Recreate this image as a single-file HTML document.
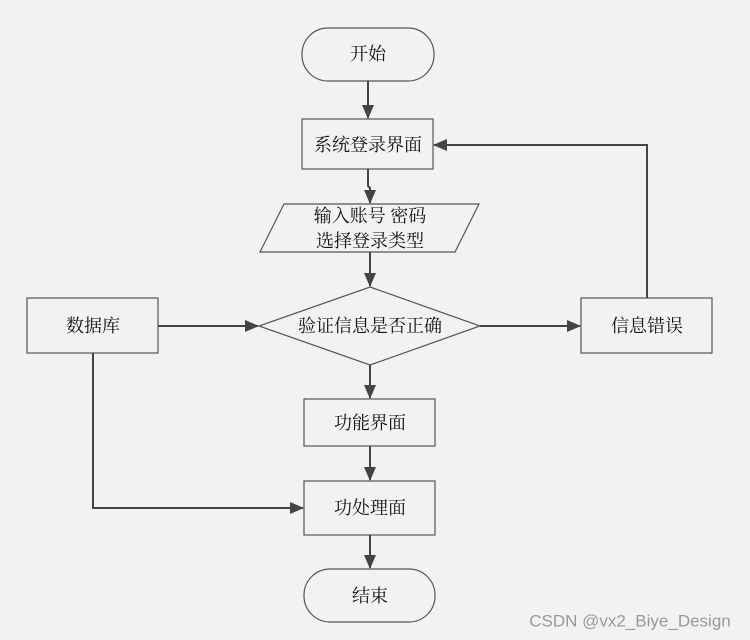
<!DOCTYPE html>
<html><head><meta charset="utf-8"><style>
html,body{margin:0;padding:0;background:#f2f2f2;}
svg{display:block;}
text{font-family:"Liberation Serif","Noto Serif CJK SC",serif;font-size:18px;fill:#111;text-anchor:middle;dominant-baseline:central;}
.s{fill:#f2f2f2;stroke:#555;stroke-width:1.2;}
.l{stroke:#444;stroke-width:2;fill:none;}
</style></head><body>
<svg width="750" height="640" viewBox="0 0 750 640" xmlns="http://www.w3.org/2000/svg">
<defs><marker id="a" markerWidth="14" markerHeight="14" refX="13" refY="7" orient="auto" markerUnits="userSpaceOnUse"><path d="M0,1 L14,7 L0,13 z" fill="#444"/></marker></defs>
<rect class="s" x="302" y="28" width="132" height="53" rx="26"/>
<text x="368" y="54">开始</text>
<rect class="s" x="302" y="119" width="131" height="50"/>
<text x="368" y="145">系统登录界面</text>
<polygon class="s" points="284,204 479,204 455,252 260,252"/>
<text x="370" y="216">输入账号 密码</text>
<text x="370" y="241">选择登录类型</text>
<polygon class="s" points="370,287 480,326 370,365 259,326"/>
<text x="370" y="326">验证信息是否正确</text>
<rect class="s" x="27" y="298" width="131" height="55"/>
<text x="93" y="326">数据库</text>
<rect class="s" x="581" y="298" width="131" height="55"/>
<text x="647" y="326">信息错误</text>
<rect class="s" x="304" y="399" width="131" height="47"/>
<text x="370" y="423">功能界面</text>
<rect class="s" x="304" y="481" width="131" height="54"/>
<text x="370" y="508">功处理面</text>
<rect class="s" x="304" y="569" width="131" height="53" rx="26"/>
<text x="370" y="596">结束</text>
<line class="l" x1="368" y1="81" x2="368" y2="118" marker-end="url(#a)"/>
<polyline class="l" points="368,169 368,186 370,188 370,203" marker-end="url(#a)"/>
<line class="l" x1="370" y1="252" x2="370" y2="286" marker-end="url(#a)"/>
<line class="l" x1="158" y1="326" x2="258" y2="326" marker-end="url(#a)"/>
<line class="l" x1="480" y1="326" x2="580" y2="326" marker-end="url(#a)"/>
<polyline class="l" points="647,298 647,145 434,145" marker-end="url(#a)"/>
<line class="l" x1="370" y1="365" x2="370" y2="398" marker-end="url(#a)"/>
<line class="l" x1="370" y1="446" x2="370" y2="480" marker-end="url(#a)"/>
<polyline class="l" points="93,353 93,508 303,508" marker-end="url(#a)"/>
<line class="l" x1="370" y1="535" x2="370" y2="568" marker-end="url(#a)"/>
<text x="630" y="621" style="font-family:'Liberation Sans',sans-serif;font-size:17px;fill:#999;">CSDN @vx2_Biye_Design</text>
</svg>
</body></html>
